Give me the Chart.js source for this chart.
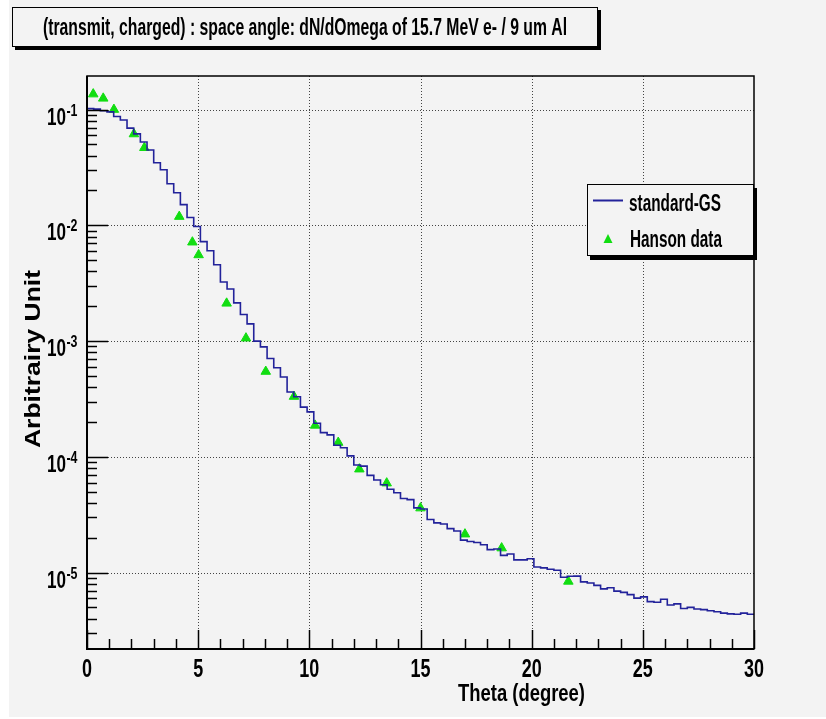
<!DOCTYPE html>
<html>
<head>
<meta charset="utf-8">
<script src="https://cdn.jsdelivr.net/npm/chart.js@4.4.0/dist/chart.umd.min.js"></script>
<style>
    body { margin: 0; background: #ffffff; }
    canvas { display: block; }
</style>
</head>
<body>
<canvas id="myChart" width="826" height="719"></canvas>
<script>
/* standard-GS : histogram, 100 bins of 0.3 degree */
const binWidth = 0.3;
const gsValues = [
    0.102, 0.101, 0.0977, 0.0955, 0.0871, 0.0813, 0.0692, 0.0617, 0.0525, 0.0447,
    0.0347, 0.0302, 0.0229, 0.0191, 0.0151, 0.0117, 0.00977, 0.00724, 0.00603, 0.00457,
    0.00324, 0.00282, 0.00214, 0.00170, 0.00141, 0.00100, 0.000891, 0.000708, 0.000589, 0.000490,
    0.000363, 0.000331, 0.000269, 0.000245, 0.000195, 0.000162, 0.000155, 0.000126, 0.000120, 0.000102,
    8.51e-5, 8.32e-5, 6.92e-5, 6.31e-5, 5.75e-5, 5.25e-5, 4.90e-5, 4.37e-5, 4.27e-5, 3.63e-5,
    3.55e-5, 2.88e-5, 2.69e-5, 2.63e-5, 2.40e-5, 2.29e-5, 1.91e-5, 1.86e-5, 1.82e-5, 1.74e-5,
    1.58e-5, 1.60e-5, 1.41e-5, 1.45e-5, 1.29e-5, 1.29e-5, 1.32e-5, 1.12e-5, 1.10e-5, 1.07e-5,
    1.05e-5, 9.12e-6, 9.30e-6, 9.33e-6, 8.32e-6, 8.13e-6, 7.76e-6, 7.24e-6, 7.41e-6, 6.92e-6,
    6.76e-6, 6.46e-6, 6.03e-6, 6.17e-6, 5.62e-6, 5.55e-6, 5.89e-6, 5.25e-6, 5.37e-6, 4.90e-6,
    5.01e-6, 4.85e-6, 4.79e-6, 4.68e-6, 4.60e-6, 4.47e-6, 4.40e-6, 4.37e-6, 4.47e-6, 4.37e-6
];

/* Hanson data */
const hansonTheta = [0.28, 0.73, 1.21, 2.11, 2.58, 4.15, 4.74, 5.02, 6.28, 7.15,
    8.04, 9.31, 10.26, 11.30, 12.25, 13.48, 15.00, 17.00, 18.65, 21.65];
const hansonValue = [0.136, 0.125, 0.100, 0.0615, 0.0468, 0.0119, 0.00715, 0.00555, 0.00212, 0.00106,
    0.000546, 0.000332, 0.000187, 0.000133, 7.83e-5, 5.93e-5, 3.61e-5, 2.15e-5, 1.63e-5, 8.4e-6];

/* axes */
const xMin = 0, xMax = 30;
const yMin = 2.19e-6, yMax = 0.195;
const xTicks = [0, 5, 10, 15, 20, 25, 30];
const yDecades = [-5, -4, -3, -2, -1];

const titleText = '(transmit, charged) : space angle: dN/dOmega of 15.7 MeV e- / 9 um Al';
const xTitle = 'Theta (degree)';
const yTitle = 'Arbitrairy Unit';
const legendLabels = ['standard-GS', 'Hanson data'];

const lineColor = '#22229a';
const markerColor = '#11dd11';
const bg = '#f3f3f3';
const FONT = '"Liberation Sans", Arial, sans-serif';

// histogram points: low edge of every bin + closing point at the upper edge
const gsPoints = gsValues.map((v, i) => ({ x: i * binWidth, y: v }));
gsPoints.push({ x: gsValues.length * binWidth, y: gsValues[gsValues.length - 1] });
const hansonPoints = hansonTheta.map((t, i) => ({ x: t, y: hansonValue[i] }));

// text squeezed/stretched to a given width (the picture is narrow)
function drawText(ctx, text, x, y, size, width, align, rotate) {
    ctx.save();
    ctx.font = 'bold ' + size + 'px ' + FONT;
    const w = ctx.measureText(text).width;
    ctx.translate(x, y);
    if (rotate) ctx.rotate(-Math.PI / 2);
    ctx.scale(width / w, 1);
    ctx.textAlign = align;
    ctx.textBaseline = 'alphabetic';
    ctx.fillStyle = '#000';
    ctx.fillText(text, 0, 0);
    ctx.restore();
}

function shadowBox(ctx, x, y, w, h, dx, dy) {
    ctx.fillStyle = '#000';
    ctx.fillRect(x + dx, y + dy, w, h);
    ctx.fillStyle = bg;
    ctx.fillRect(x, y, w, h);
    ctx.strokeStyle = '#000';
    ctx.lineWidth = 1;
    ctx.strokeRect(x + 0.5, y + 0.5, w - 1, h - 1);
}

const rootStyle = {
    id: 'rootStyle',
    beforeDraw(chart) {
        const ctx = chart.ctx;
        ctx.save();
        ctx.fillStyle = '#ffffff';
        ctx.fillRect(0, 0, chart.width, chart.height);
        ctx.fillStyle = bg;
        ctx.fillRect(9, 0, chart.width - 9, 717);
        ctx.restore();
    },
    beforeDatasetsDraw(chart) {
        const ctx = chart.ctx;
        const a = chart.chartArea;
        const xs = chart.scales.x, ys = chart.scales.y;
        ctx.save();
        ctx.strokeStyle = '#444';
        ctx.lineWidth = 1;
        ctx.setLineDash([1, 2]);
        xTicks.forEach(v => {
            if (v === xMin || v === xMax) return;
            const px = Math.round(xs.getPixelForValue(v)) + 0.5;
            ctx.beginPath();
            ctx.moveTo(px, a.top);
            ctx.lineTo(px, a.bottom);
            ctx.stroke();
        });
        yDecades.forEach(d => {
            const py = Math.round(ys.getPixelForValue(Math.pow(10, d))) + 0.5;
            ctx.beginPath();
            ctx.moveTo(a.left, py);
            ctx.lineTo(a.right, py);
            ctx.stroke();
        });
        ctx.restore();
    },
    afterDatasetsDraw(chart) {
        const ctx = chart.ctx;
        const a = chart.chartArea;
        const xs = chart.scales.x, ys = chart.scales.y;
        ctx.save();

        // frame
        ctx.strokeStyle = '#000';
        ctx.lineWidth = 1.5;
        ctx.strokeRect(a.left, a.top, a.right - a.left, a.bottom - a.top);
        ctx.lineWidth = 2;
        ctx.beginPath();
        ctx.moveTo(a.left, a.top);
        ctx.lineTo(a.left, a.bottom);
        ctx.lineTo(a.right, a.bottom);
        ctx.stroke();

        // x ticks
        ctx.lineWidth = 1.5;
        for (let v = xMin; v <= xMax; v++) {
            const px = Math.round(xs.getPixelForValue(v)) + 0.5;
            const len = v % 5 === 0 ? 19 : 10;
            ctx.beginPath();
            ctx.moveTo(px, a.bottom);
            ctx.lineTo(px, a.bottom - len);
            ctx.stroke();
        }
        // y ticks
        for (let d = -6; d <= -1; d++) {
            for (let k = 1; k <= 9; k++) {
                const v = k * Math.pow(10, d);
                if (v < yMin || v > yMax) continue;
                const py = Math.round(ys.getPixelForValue(v)) + 0.5;
                const len = k === 1 ? 21 : 10;
                ctx.beginPath();
                ctx.moveTo(a.left, py);
                ctx.lineTo(a.left + len, py);
                ctx.stroke();
            }
        }

        // tick labels
        xTicks.forEach(v => {
            const s = String(v);
            drawText(ctx, s, xs.getPixelForValue(v), a.bottom + 28, 26, 10 * s.length, 'center');
        });
        yDecades.forEach(d => {
            const py = ys.getPixelForValue(Math.pow(10, d));
            drawText(ctx, '10', a.left - 21, py + 15, 23, 19, 'right');
            drawText(ctx, String(d), a.left - 20.5, py + 6, 16, 11, 'left');
        });

        // axis titles
        drawText(ctx, xTitle, 585, 701, 23, 127, 'right');
        drawText(ctx, yTitle, 40, 359, 22, 178, 'center', true);

        // title box
        shadowBox(ctx, 12, 7, 586, 40, 3, 3);
        drawText(ctx, titleText, 305, 35, 23, 524, 'center');

        // legend
        shadowBox(ctx, 587, 184, 167, 72, 3, 4);
        ctx.strokeStyle = lineColor;
        ctx.lineWidth = 2;
        ctx.beginPath();
        ctx.moveTo(593, 200.5);
        ctx.lineTo(623, 200.5);
        ctx.stroke();
        ctx.fillStyle = markerColor;
        ctx.beginPath();
        ctx.moveTo(608, 234);
        ctx.lineTo(612.5, 243);
        ctx.lineTo(603.5, 243);
        ctx.closePath();
        ctx.fill();
        drawText(ctx, legendLabels[0], 629, 211, 23, 92, 'left');
        drawText(ctx, legendLabels[1], 630, 247, 23, 92, 'left');

        ctx.restore();
    }
};

const ctx = document.getElementById('myChart');

new Chart(ctx, {
    type: 'line',
    data: {
        datasets: [{
            label: legendLabels[0],
            data: gsPoints,
            stepped: true,
            borderColor: lineColor,
            borderWidth: 1.6,
            pointRadius: 0,
            fill: false
        },
        {
            label: legendLabels[1],
            data: hansonPoints,
            showLine: false,
            pointStyle: 'triangle',
            pointRadius: 5.5,
            backgroundColor: markerColor,
            borderColor: markerColor,
            borderWidth: 1
        }]
    },
    options: {
        responsive: false,
        animation: false,
        layout: {
            padding: { left: 87, top: 76, right: 72, bottom: 70 }
        },
        plugins: {
            legend: { display: false },
            title: { display: false },
            tooltip: { enabled: false }
        },
        scales: {
            x: {
                type: 'linear',
                min: xMin,
                max: xMax,
                display: false
            },
            y: {
                type: 'logarithmic',
                min: yMin,
                max: yMax,
                display: false
            }
        }
    },
    plugins: [rootStyle]
});
</script>
</body>
</html>
